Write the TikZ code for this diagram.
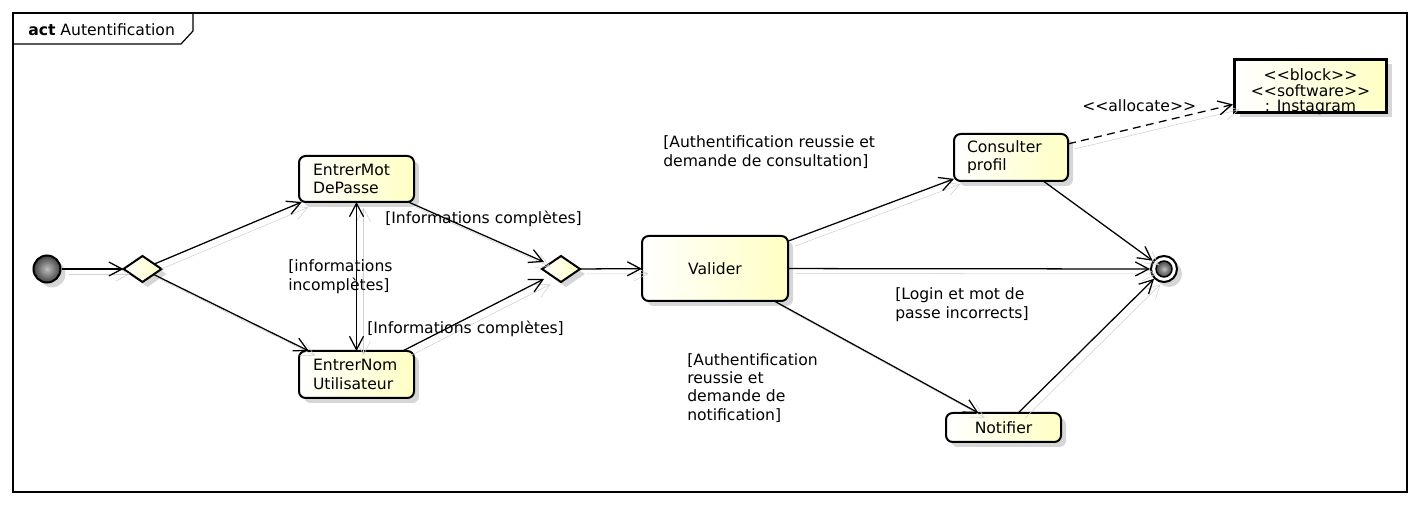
\documentclass[tikz,border=0pt]{standalone}
\usepackage{fontspec}
\setmainfont{DejaVu Sans}
\usetikzlibrary{arrows.meta,shapes.geometric,shadows,calc}
\definecolor{ylw}{RGB}{255,255,196}
\definecolor{shd}{RGB}{214,214,214}
\definecolor{lshd}{RGB}{208,208,208}
\newcommand\stLL{<\kern0pt<}
\newcommand\stGG{>\kern0pt>}
\begin{document}
\begin{tikzpicture}[x=0.75pt,y=-0.75pt,
  font=\fontsize{11.7}{13.8}\selectfont,
  >={Straight Barb[length=10pt,width=10.5pt]},
  nshadow/.style={drop shadow={shadow xshift=3.75pt,shadow yshift=-3.75pt,fill=shd,opacity=1}},
  action/.style={draw,line width=1.5pt,rounded corners=5pt,left color=white,right color=ylw,nshadow,inner ysep=0pt,outer sep=0pt},
  decision/.style={diamond,draw,line width=1.5pt,left color=white,right color=ylw,nshadow,minimum width=28.5pt,minimum height=19.5pt,inner sep=0pt,outer sep=0pt},
  flow/.style={line width=0.95pt,->,preaction={draw=lshd,solid,transform canvas={shift={(5.25pt,-3.75pt)}}}},
  guard/.style={inner sep=0pt,align=left},
  btext/.style={inner sep=0pt},
]
\useasboundingbox (0,0) rectangle (1420,505);
% frame
\draw[line width=0.9pt] (13,13) rectangle (1407,492);
\draw[line width=0.9pt] (13,44) -- (181,44) -- (193,31) -- (193,13);
\node[anchor=west,inner sep=0pt] (hdr) at (28,30) {\textbf{act} Autentification};

% nodes
\node[circle,draw,line width=1.5pt,minimum size=20.25pt,inner sep=0pt,shading=radial,inner color=gray!50,outer color=black!75,nshadow] (init) at (47,269) {};
\node[decision] (d1) at (142.5,269) {};
\node[action,text width=65.25pt,inner xsep=10.5pt,minimum height=34.5pt,align=left] (mot) at (356.5,179) {EntrerMot\\DePasse};
\node[action,text width=65.25pt,inner xsep=10.5pt,minimum height=35.25pt,align=left] (nom) at (356.5,374.5) {EntrerNom\\Utilisateur};
\node[decision] (d2) at (561,269) {};
\node[action,minimum width=109.5pt,minimum height=48.75pt,align=center] (val) at (715,268.5) {Valider};
\node[action,text width=66pt,inner xsep=9.75pt,minimum height=35.25pt,align=left] (cons) at (1011,157.5) {Consulter\\profil};
\node[action,minimum width=86.25pt,minimum height=21.75pt,align=center] (notif) at (1003.5,427.5) {Notifier};
\node[circle,draw,line width=1.5pt,fill=white,minimum size=19.5pt,inner sep=0pt,nshadow] (fin) at (1164,269) {};
\node[circle,draw,line width=1.1pt,minimum size=12pt,inner sep=0pt,shading=radial,inner color=gray!50,outer color=black!75] (fini) at (fin) {};
\node[draw,line width=2.25pt,minimum width=114pt,minimum height=39.75pt,left color=white,right color=ylw,nshadow,inner sep=0pt] (blk) at (1310.5,86) {};
\node[btext] (b1) at (1310.5,74.5) {\stLL block\stGG};
\node[btext] (b2) at (1310.5,91) {\stLL software\stGG};
\node[btext] (b3) at (1310.5,107.5) {: Instagram};

% connectors
\draw[flow] (init) -- (d1);
\draw[flow] (d1) -- (mot);
\draw[flow] (d1) -- (nom);
\draw[flow,<->] (mot) -- (nom);
\draw[flow] (mot) -- ($(d2.west)+(2,-7)$);
\draw[flow] (nom) -- ($(d2.west)+(2,10)$);
\draw[flow] (d2) -- (val);
\draw[flow] (val) -- (cons);
\draw[flow] (val) -- (fin);
\draw[flow] (val) -- ($(notif.north)+(-25,0)$);
\draw[flow] (cons) -- (fin);
\draw[flow] (notif) -- (fin);
\draw[flow,dash pattern=on 6pt off 4pt] (cons) -- (blk);

% guards
\node[guard,anchor=west] (g1) at (385,219) {[Informations complètes]};
\node[guard,anchor=north west] (g2) at (288,259.5) {[informations\\incomplètes]};
\node[guard,anchor=north west] (g3) at (367,321) {[Informations complètes]};
\node[guard,anchor=north west] (g4) at (663,135.5) {[Authentification reussie et\\demande de consultation]};
\node[guard,anchor=north west] (g5) at (895,287.5) {[Login et mot de\\passe incorrects]};
\node[guard,anchor=north west] (g6) at (687,353) {[Authentification\\reussie et\\demande de\\notification]};
\node[guard,anchor=west] (g7) at (1082,106) {\stLL allocate\stGG};
\end{tikzpicture}
\end{document}
